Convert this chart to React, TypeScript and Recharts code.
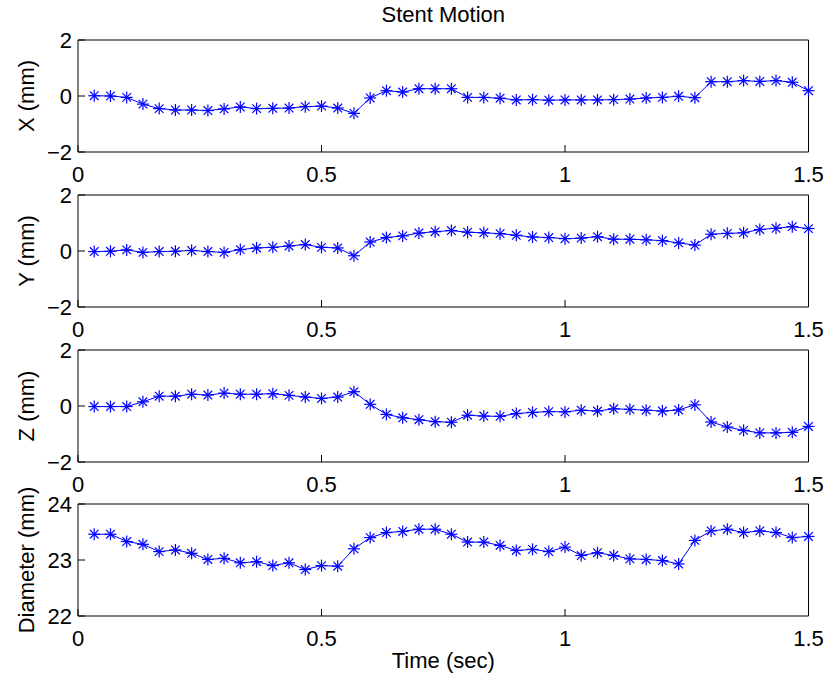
import React from "react";
import { LineChart, Line, XAxis, YAxis } from "recharts";

// sample times (sec), 30 frames per second
const time = [
  0.0333, 0.0667, 0.1, 0.1333, 0.1667, 0.2, 0.2333, 0.2667, 0.3, 0.3333,
  0.3667, 0.4, 0.4333, 0.4667, 0.5, 0.5333, 0.5667, 0.6, 0.6333, 0.6667,
  0.7, 0.7333, 0.7667, 0.8, 0.8333, 0.8667, 0.9, 0.9333, 0.9667, 1.0,
  1.0333, 1.0667, 1.1, 1.1333, 1.1667, 1.2, 1.2333, 1.2667, 1.3, 1.3333,
  1.3667, 1.4, 1.4333, 1.4667, 1.5,
];

const xPos = [
  0.01, 0.0, -0.05, -0.29, -0.45, -0.5, -0.5, -0.52, -0.46, -0.39,
  -0.45, -0.44, -0.43, -0.38, -0.36, -0.43, -0.62, -0.07, 0.19, 0.14,
  0.26, 0.26, 0.26, -0.05, -0.05, -0.08, -0.14, -0.13, -0.15, -0.14,
  -0.14, -0.14, -0.13, -0.11, -0.07, -0.05, -0.01, -0.06, 0.51, 0.51,
  0.55, 0.52, 0.55, 0.49, 0.19,
];

const yPos = [
  -0.02, -0.01, 0.04, -0.05, -0.02, -0.01, 0.02, -0.02, -0.05, 0.05,
  0.11, 0.13, 0.18, 0.23, 0.13, 0.11, -0.17, 0.32, 0.48, 0.54,
  0.64, 0.69, 0.73, 0.67, 0.65, 0.62, 0.56, 0.5, 0.48, 0.44,
  0.46, 0.51, 0.42, 0.42, 0.4, 0.37, 0.29, 0.21, 0.6, 0.63,
  0.65, 0.77, 0.81, 0.87, 0.8,
];

const zPos = [
  -0.02, -0.02, -0.02, 0.15, 0.35, 0.35, 0.42, 0.39, 0.46, 0.42,
  0.42, 0.44, 0.38, 0.32, 0.27, 0.32, 0.51, 0.06, -0.3, -0.42,
  -0.49, -0.56, -0.58, -0.33, -0.36, -0.37, -0.27, -0.23, -0.2, -0.21,
  -0.15, -0.18, -0.1, -0.12, -0.15, -0.18, -0.14, 0.04, -0.57, -0.75,
  -0.87, -0.96, -0.96, -0.94, -0.73,
];

const diameter = [
  23.46, 23.46, 23.33, 23.28, 23.15, 23.18, 23.12, 23.01, 23.03, 22.95,
  22.97, 22.9, 22.95, 22.83, 22.9, 22.89, 23.2, 23.4, 23.49, 23.51,
  23.55, 23.55, 23.46, 23.32, 23.32, 23.26, 23.17, 23.19, 23.15, 23.23,
  23.08, 23.13, 23.08, 23.02, 23.01, 22.99, 22.93, 23.35, 23.52, 23.55,
  23.49, 23.52, 23.49, 23.4, 23.42,
];

const timeTicks = [0, 0.5, 1, 1.5];
const mmTicks = [-2, 0, 2];
const diameterTicks = [22, 23, 24];

const rows = time.map((t, i) => ({
  t,
  x: xPos[i],
  y: yPos[i],
  z: zPos[i],
  d: diameter[i],
}));

const FONT = "'Liberation Sans', Arial, Helvetica, sans-serif";
const FS = 22;
const BLUE = "#0000ff";

const fmt = (v: number) => String(v).replace("-", "\u2212");

// matlab style '*' marker
const Star = (props: any) => {
  const { cx, cy, index } = props;
  if (cx == null || cy == null) return <g key={`s-${index}`} />;
  const r = 6;
  const d = 4.3;
  return (
    <g key={`s-${index}`} stroke={BLUE} strokeWidth={1.2}>
      <line x1={cx - r} y1={cy} x2={cx + r} y2={cy} />
      <line x1={cx} y1={cy - r} x2={cx} y2={cy + r} />
      <line x1={cx - d} y1={cy - d} x2={cx + d} y2={cy + d} />
      <line x1={cx - d} y1={cy + d} x2={cx + d} y2={cy - d} />
    </g>
  );
};

type PanelProps = {
  dataKey: string;
  label: string;
  domain: [number, number];
  ticks: number[];
  top: number; // plot area top on page
  marginTop: number;
  xAxisHeight: number;
  title?: string;
  xLabel?: string;
};

const PLOT_H = 112;

const Panel = ({
  dataKey,
  label,
  domain,
  ticks,
  top,
  marginTop,
  xAxisHeight,
  title,
  xLabel,
}: PanelProps) => {
  const height = marginTop + PLOT_H + xAxisHeight;
  const axisStroke = { stroke: "#000", strokeWidth: 1 };
  return (
    <div style={{ position: "absolute", left: 0, top: top - marginTop }}>
      <LineChart
        width={825}
        height={height}
        data={rows}
        margin={{ top: marginTop - 1, right: 15.5, bottom: 0, left: 38 }}
      >
        <XAxis
          dataKey="t"
          type="number"
          domain={[0, 1.5]}
          ticks={timeTicks}
          interval={0}
          height={xAxisHeight}
          tickSize={-7}
          tickMargin={21}
          axisLine={axisStroke}
          tickLine={axisStroke}
          tick={{ fill: "#000", fontSize: FS, fontFamily: FONT }}
          tickFormatter={fmt}
          label={
            xLabel
              ? {
                  content: ({ viewBox }: any) => {
                    const vb = viewBox || { x: 78, y: 0, width: 730 };
                    const cx = vb.x + vb.width / 2;
                    return (
                      <text
                        x={cx}
                        y={vb.y + 52}
                        textAnchor="middle"
                        fontSize={FS}
                        fontFamily={FONT}
                        fill="#000"
                      >
                        {xLabel}
                      </text>
                    );
                  },
                }
              : undefined
          }
        />
        <XAxis
          xAxisId="top"
          dataKey="t"
          type="number"
          orientation="top"
          domain={[0, 1.5]}
          ticks={timeTicks}
          height={1}
          tickSize={-7}
          tick={false}
          axisLine={axisStroke}
          tickLine={axisStroke}
          label={
            title
              ? {
                  content: ({ viewBox }: any) => {
                    const vb = viewBox || { x: 78, y: 39, width: 730, height: 1 };
                    const cx = vb.x + vb.width / 2;
                    return (
                      <text
                        x={cx}
                        y={vb.y + vb.height - 18}
                        textAnchor="middle"
                        fontSize={FS}
                        fontFamily={FONT}
                        fill="#000"
                      >
                        {title}
                      </text>
                    );
                  },
                }
              : undefined
          }
        />
        <YAxis
          type="number"
          domain={domain}
          ticks={ticks}
          interval={0}
          width={40}
          tickSize={-7}
          tickMargin={13}
          axisLine={axisStroke}
          tickLine={axisStroke}
          tick={{ fill: "#000", fontSize: FS, fontFamily: FONT }}
          tickFormatter={fmt}
          label={{
            content: ({ viewBox }: any) => {
              const vb = viewBox || { y: marginTop, height: PLOT_H };
              const cy = vb.y + vb.height / 2;
              return (
                <text
                  x={26}
                  y={cy}
                  transform={`rotate(-90 26 ${cy})`}
                  textAnchor="middle"
                  dominantBaseline="central"
                  fontSize={FS}
                  fontFamily={FONT}
                  fill="#000"
                >
                  {label}
                </text>
              );
            },
          }}
        />
        <YAxis
          yAxisId="right"
          orientation="right"
          type="number"
          domain={domain}
          ticks={ticks}
          width={1}
          tickSize={-7}
          tick={false}
          axisLine={axisStroke}
          tickLine={axisStroke}
        />
        <Line
          type="linear"
          dataKey={dataKey}
          stroke={BLUE}
          strokeWidth={1}
          dot={Star}
          activeDot={false}
          isAnimationActive={false}
        />
      </LineChart>
    </div>
  );
};

export default function App() {
  return (
    <div
      style={{
        position: "absolute",
        left: 0,
        top: 0,
        width: 825,
        height: 677,
        background: "#fff",
        fontFamily: FONT,
      }}
    >
      <Panel
        dataKey="x"
        label="X (mm)"
        domain={[-2, 2]}
        ticks={mmTicks}
        top={40}
        marginTop={40}
        xAxisHeight={40}
        title="Stent Motion"
      />
      <Panel
        dataKey="y"
        label="Y (mm)"
        domain={[-2, 2]}
        ticks={mmTicks}
        top={195}
        marginTop={25}
        xAxisHeight={40}
      />
      <Panel
        dataKey="z"
        label="Z (mm)"
        domain={[-2, 2]}
        ticks={mmTicks}
        top={349.5}
        marginTop={25}
        xAxisHeight={40}
      />
      <Panel
        dataKey="d"
        label="Diameter (mm)"
        domain={[22, 24]}
        ticks={diameterTicks}
        top={504}
        marginTop={25}
        xAxisHeight={60}
        xLabel="Time (sec)"
      />
    </div>
  );
}
